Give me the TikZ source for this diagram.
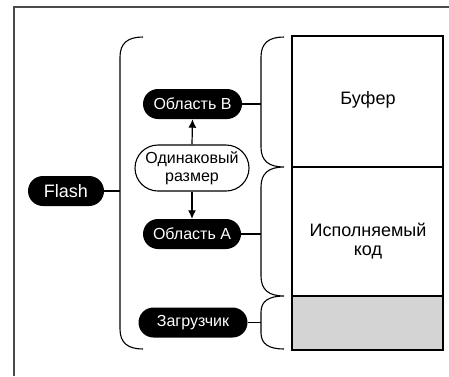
\documentclass[tikz,border=0pt]{standalone}
\usepackage{fontspec}
\setmainfont{Liberation Sans}
\usetikzlibrary{shapes.misc,arrows.meta}
\definecolor{framegray}{HTML}{4A4A4A}
\definecolor{bootgray}{HTML}{D4D4D4}
\tikzset{
  pill/.style={rounded rectangle, fill=black, text=white, font=\fontsize{16}{18}\selectfont, inner sep=0pt, minimum height=30pt},
  sizebox/.style={rounded rectangle, draw=black, line width=1.1pt, fill=white, font=\fontsize{16}{17.5}\selectfont, align=center, inner sep=0pt, minimum height=46pt, minimum width=114pt},
  link/.style={draw=black, line width=1.1pt},
  bracepath/.style={draw=black, line width=1.1pt},
  memtext/.style={font=\fontsize{18}{18.5}\selectfont, align=center},
  arr/.style={draw=black, line width=1.2pt, -{Latex[length=8.5pt,width=8pt]}}
}
\begin{document}
\begin{tikzpicture}[x=1pt,y=-1pt]
\useasboundingbox (0,0) rectangle (449,376);
% outer frame (partly outside the picture)
\draw[framegray, line width=2pt] (14,376) -- (14,7) -- (449,7);
% memory column
\filldraw[fill=bootgray, draw=black, line width=1.4pt] (292,296) rectangle (443,350);
\draw[black, line width=1.4pt] (292,296) -- (292,36) -- (443,36) -- (443,296);
\draw[black, line width=1.2pt] (292,167) -- (443,167);
\node[memtext] (buf) at (368,100) {Буфер};
\node[memtext] (code) at (368,241) {Исполняемый\\код};
% nodes
\node[pill, minimum width=76pt, font=\fontsize{18}{20}\selectfont] (flash) at (66,191) {Flash};
\node[pill, minimum width=99pt] (areaB) at (192.5,104) {Область B};
\node[sizebox] (same) at (192,168) {Одинаковый\\размер};
\node[pill, minimum width=98pt] (areaA) at (192,234) {Область A};
\node[pill, minimum width=109pt] (boot) at (193,322.5) {Загрузчик};
% brace coordinates
\coordinate (Lt) at (143,37);
\coordinate (Lb) at (143,349);
\coordinate (R1) at (284,37);
\coordinate (R2) at (284,167);
\coordinate (R3) at (284,296);
\coordinate (R4) at (284,349);
% left brace
\draw[bracepath] (Lt) .. controls (128,37) and (120,43) .. (120,57) -- (120,329) .. controls (120,343) and (128,349) .. (Lb);
% right braces
\draw[bracepath] (R1) .. controls (269,37) and (261,43) .. (261,57) -- (261,147) .. controls (261,161) and (269,167) .. (R2)
  .. controls (269,167) and (261,173) .. (261,187) -- (261,276) .. controls (261,290) and (269,296) .. (R3)
  .. controls (269,296) and (261,301) .. (261,312) -- (261,333) .. controls (261,344) and (269,349) .. (R4);
% connectors
\coordinate (cf) at (120,191);
\coordinate (cb) at (261,104);
\coordinate (ca) at (261,234);
\coordinate (cz) at (261,322.5);
\draw[link] (flash.east) -- (cf);
\draw[link] (areaB.east) -- (cb);
\draw[link] (areaA.east) -- (ca);
\draw[link] (boot.east) -- (cz);
% arrows
\draw[arr] (same.north) -- (areaB.south);
\draw[arr] (same.south) -- (areaA.north);
\end{tikzpicture}
\end{document}
